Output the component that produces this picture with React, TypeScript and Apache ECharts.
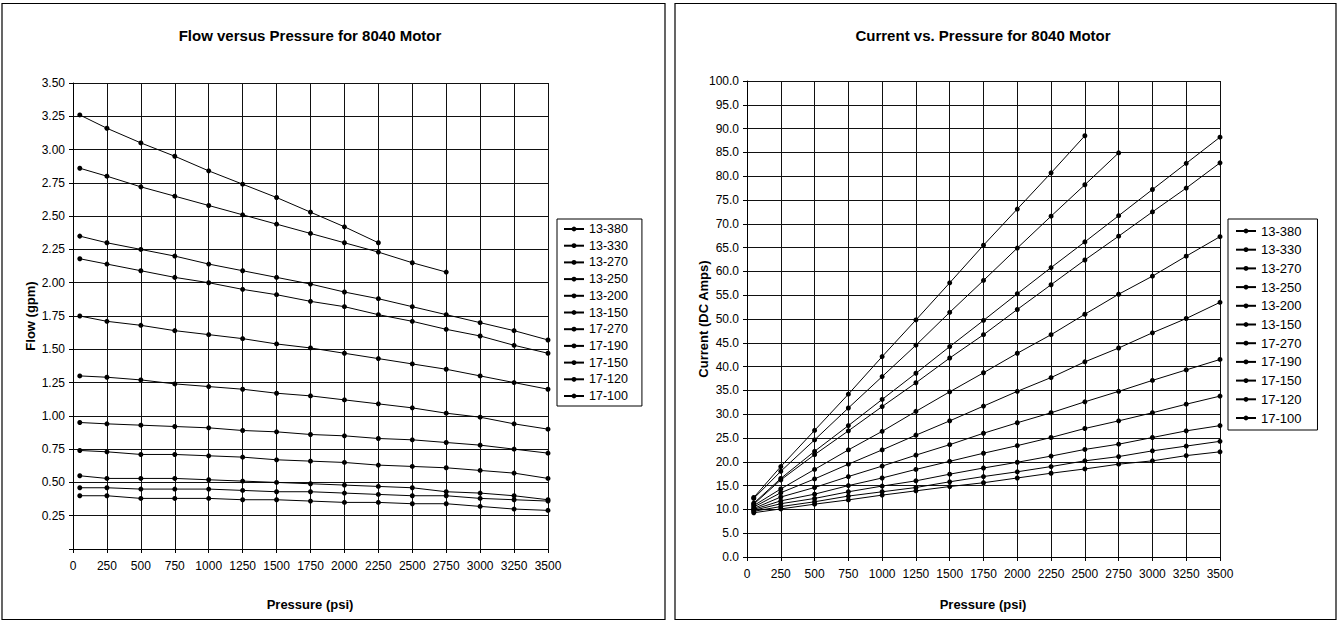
import React, { useEffect, useRef } from 'react';
import * as echarts from 'echarts';

const pressures = [50, 250, 500, 750, 1000, 1250, 1500, 1750, 2000, 2250, 2500, 2750, 3000, 3250, 3500];
const seriesNames = ['13-380', '13-330', '13-270', '13-250', '13-200', '13-150', '17-270', '17-190', '17-150', '17-120', '17-100'];

// Flow (gpm)
const flow13_380 = [3.26, 3.16, 3.05, 2.95, 2.84, 2.74, 2.64, 2.53, 2.42, 2.30];
const flow13_330 = [2.86, 2.80, 2.72, 2.65, 2.58, 2.51, 2.44, 2.37, 2.30, 2.23, 2.15, 2.08];
const flow13_270 = [2.35, 2.30, 2.25, 2.20, 2.14, 2.09, 2.04, 1.99, 1.93, 1.88, 1.82, 1.76, 1.70, 1.64, 1.57];
const flow13_250 = [2.18, 2.14, 2.09, 2.04, 2.00, 1.95, 1.91, 1.86, 1.82, 1.76, 1.71, 1.65, 1.60, 1.53, 1.47];
const flow13_200 = [1.75, 1.71, 1.68, 1.64, 1.61, 1.58, 1.54, 1.51, 1.47, 1.43, 1.39, 1.35, 1.30, 1.25, 1.20];
const flow13_150 = [1.30, 1.29, 1.27, 1.24, 1.22, 1.20, 1.17, 1.15, 1.12, 1.09, 1.06, 1.02, 0.99, 0.94, 0.90];
const flow17_270 = [0.95, 0.94, 0.93, 0.92, 0.91, 0.89, 0.88, 0.86, 0.85, 0.83, 0.82, 0.80, 0.78, 0.75, 0.72];
const flow17_190 = [0.74, 0.73, 0.71, 0.71, 0.70, 0.69, 0.67, 0.66, 0.65, 0.63, 0.62, 0.61, 0.59, 0.57, 0.53];
const flow17_150 = [0.55, 0.53, 0.53, 0.53, 0.52, 0.51, 0.50, 0.49, 0.48, 0.47, 0.46, 0.43, 0.42, 0.40, 0.37];
const flow17_120 = [0.46, 0.46, 0.45, 0.45, 0.45, 0.44, 0.43, 0.43, 0.42, 0.41, 0.40, 0.40, 0.38, 0.37, 0.36];
const flow17_100 = [0.40, 0.40, 0.38, 0.38, 0.38, 0.37, 0.37, 0.36, 0.35, 0.35, 0.34, 0.34, 0.32, 0.30, 0.29];

// Current (DC Amps)
const cur13_380 = [12.5, 19.0, 26.6, 34.2, 42.1, 49.8, 57.6, 65.5, 73.1, 80.7, 88.5];
const cur13_330 = [12.3, 18.0, 24.6, 31.3, 37.9, 44.5, 51.4, 58.1, 64.9, 71.6, 78.2, 84.9];
const cur13_270 = [11.3, 16.5, 22.2, 27.6, 33.1, 38.6, 44.2, 49.7, 55.3, 60.8, 66.2, 71.7, 77.2, 82.7, 88.2];
const cur13_250 = [11.1, 16.2, 21.5, 26.5, 31.6, 36.6, 41.8, 46.7, 52.0, 57.2, 62.4, 67.4, 72.5, 77.5, 82.8];
const cur13_200 = [10.8, 14.3, 18.4, 22.5, 26.4, 30.6, 34.7, 38.7, 42.8, 46.7, 51.0, 55.2, 59.0, 63.2, 67.3];
const cur13_150 = [10.5, 13.5, 16.4, 19.5, 22.5, 25.6, 28.6, 31.7, 34.8, 37.7, 41.0, 43.9, 47.1, 50.1, 53.5];
const cur17_270 = [10.2, 12.6, 14.6, 16.9, 19.1, 21.4, 23.6, 26.0, 28.2, 30.3, 32.6, 34.8, 37.1, 39.3, 41.5];
const cur17_190 = [10.0, 11.8, 13.2, 15.0, 16.6, 18.4, 20.1, 21.8, 23.4, 25.1, 27.0, 28.6, 30.3, 32.1, 33.8];
const cur17_150 = [9.8, 11.2, 12.3, 13.7, 14.9, 16.0, 17.4, 18.7, 19.9, 21.2, 22.6, 23.7, 25.1, 26.5, 27.6];
const cur17_120 = [9.6, 10.6, 11.6, 12.8, 13.7, 14.6, 15.8, 16.9, 17.9, 19.0, 20.2, 21.1, 22.3, 23.3, 24.3];
const cur17_100 = [9.3, 10.1, 11.1, 12.0, 13.0, 13.9, 14.8, 15.6, 16.6, 17.6, 18.5, 19.5, 20.2, 21.3, 22.1];

const flowSets = [flow13_380, flow13_330, flow13_270, flow13_250, flow13_200, flow13_150, flow17_270, flow17_190, flow17_150, flow17_120, flow17_100];
const curSets = [cur13_380, cur13_330, cur13_270, cur13_250, cur13_200, cur13_150, cur17_270, cur17_190, cur17_150, cur17_120, cur17_100];

const FONT = '"Liberation Sans", Arial, Helvetica, sans-serif';

function makeSeries(sets: number[][], axisIndex: number) {
  return sets.map((vals, i) => ({
    name: seriesNames[i],
    type: 'line',
    xAxisIndex: axisIndex,
    yAxisIndex: axisIndex,
    data: vals.map((v, j) => [pressures[j], v]),
    symbol: 'circle',
    symbolSize: 5,
    showSymbol: true,
    color: '#000',
    lineStyle: { color: '#000', width: 1 },
    itemStyle: { color: '#000' },
    emphasis: { disabled: true },
  }));
}

function xAxis(gridIndex: number) {
  return {
    type: 'value',
    gridIndex,
    min: 0,
    max: 3500,
    interval: 250,
    axisLine: { show: true, lineStyle: { color: '#000', width: 1 } },
    axisTick: { show: true, length: 4, lineStyle: { color: '#000' } },
    axisLabel: {
      color: '#000', fontSize: 12, fontFamily: FONT, margin: 11, showMinLabel: true, showMaxLabel: true,
      formatter: (v: number) => String(v),
    },
    splitLine: { show: true, lineStyle: { color: '#111', width: 1 } },
  };
}

export default function App() {
  const ref = useRef<HTMLDivElement>(null);
  useEffect(() => {
    if (!ref.current) return;
    const chart = echarts.init(ref.current, undefined, { renderer: 'svg' });
    const legendBase = {
      orient: 'vertical',
      borderColor: '#000',
      borderWidth: 1,
      itemWidth: 20,
      itemHeight: 6,
      backgroundColor: '#fff',
      data: seriesNames,
      selectedMode: false,
    };
    chart.setOption({
      animation: false,
      backgroundColor: '#fff',
      grid: [
        { left: 73, top: 83, width: 475, height: 466, containLabel: false },
        { left: 747, top: 81, width: 473, height: 476, containLabel: false },
      ],
      xAxis: [xAxis(0), xAxis(1)],
      yAxis: [
        {
          type: 'value',
          gridIndex: 0,
          min: 0,
          max: 3.5,
          interval: 0.25,
          axisLine: { show: true, lineStyle: { color: '#000' } },
          axisTick: { show: true, length: 4, lineStyle: { color: '#000' } },
          axisLabel: {
            color: '#000', fontSize: 12, fontFamily: FONT, margin: 8,
            formatter: (v: number) => (v === 0 ? '' : v.toFixed(2)),
          },
          splitLine: { show: true, lineStyle: { color: '#111', width: 1 } },
        },
        {
          type: 'value',
          gridIndex: 1,
          min: 0,
          max: 100,
          interval: 5,
          axisLine: { show: true, lineStyle: { color: '#000' } },
          axisTick: { show: true, length: 4, lineStyle: { color: '#000' } },
          axisLabel: {
            color: '#000', fontSize: 12, fontFamily: FONT, margin: 8,
            formatter: (v: number) => v.toFixed(1),
          },
          splitLine: { show: true, lineStyle: { color: '#111', width: 1 } },
        },
      ],
      legend: [
        {
          ...legendBase, left: 557, top: 219, padding: [3, 14, 3, 6], itemGap: 2.7,
          textStyle: { color: '#000', fontSize: 12.5, fontFamily: FONT, lineHeight: 14 },
        },
        {
          ...legendBase, left: 1228, top: 219, padding: [5, 16, 5, 7], itemGap: 4.7,
          textStyle: { color: '#000', fontSize: 13, fontFamily: FONT, lineHeight: 14 },
        },
      ],
      graphic: [
        { type: 'rect', shape: { x: 2, y: 3.5, width: 663, height: 616 }, style: { fill: 'none', stroke: '#000', lineWidth: 1.2 }, silent: true, z: -1 },
        { type: 'rect', shape: { x: 675, y: 3.5, width: 661, height: 616 }, style: { fill: 'none', stroke: '#000', lineWidth: 1.2 }, silent: true, z: -1 },
        { type: 'text', x: 310, y: 35, style: { text: 'Flow versus Pressure for 8040 Motor', fill: '#000', font: `bold 15px ${FONT}`, textAlign: 'center', textVerticalAlign: 'middle' } },
        { type: 'text', x: 983, y: 35, style: { text: 'Current vs. Pressure for 8040 Motor', fill: '#000', font: `bold 15px ${FONT}`, textAlign: 'center', textVerticalAlign: 'middle' } },
        { type: 'text', x: 310, y: 604, style: { text: 'Pressure (psi)', fill: '#000', font: `bold 13px ${FONT}`, textAlign: 'center', textVerticalAlign: 'middle' } },
        { type: 'text', x: 983, y: 604, style: { text: 'Pressure (psi)', fill: '#000', font: `bold 13px ${FONT}`, textAlign: 'center', textVerticalAlign: 'middle' } },
        { type: 'text', x: 30, y: 316, rotation: Math.PI / 2, style: { text: 'Flow (gpm)', fill: '#000', font: `bold 13px ${FONT}`, textAlign: 'center', textVerticalAlign: 'middle' } },
        { type: 'text', x: 703, y: 319, rotation: Math.PI / 2, style: { text: 'Current (DC Amps)', fill: '#000', font: `bold 13px ${FONT}`, textAlign: 'center', textVerticalAlign: 'middle' } },
      ],
      series: [...makeSeries(flowSets, 0), ...makeSeries(curSets, 1)],
    });
    return () => chart.dispose();
  }, []);
  return <div ref={ref} style={{ position: 'absolute', left: 0, top: 0, width: 1340, height: 624, background: '#fff' }} />;
}
